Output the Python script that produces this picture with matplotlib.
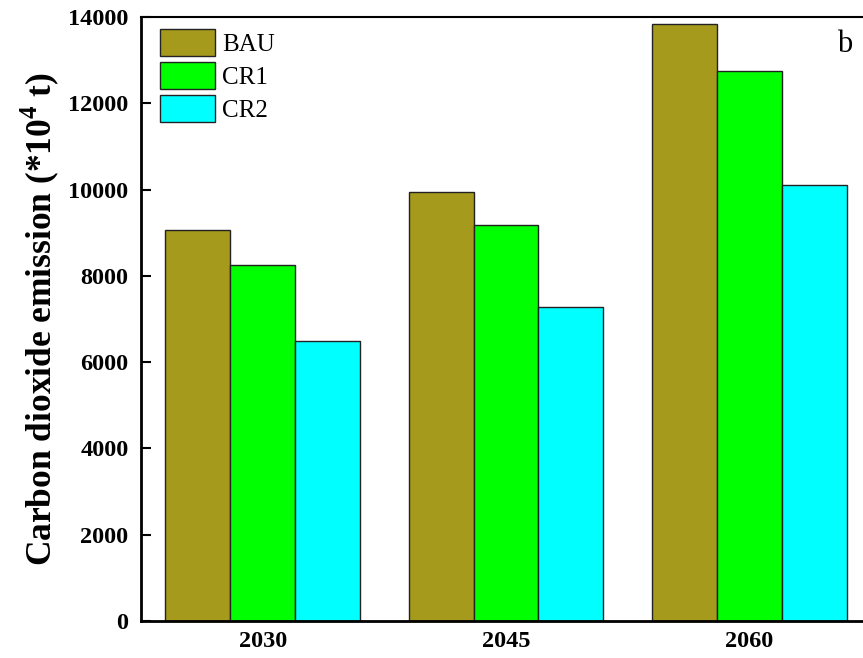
import numpy as np
import matplotlib
matplotlib.use("Agg")
import matplotlib.pyplot as plt

# Emission data (x10^4 t) per scenario and target year
years = ["2030", "2045", "2060"]
scenarios = ["BAU", "CR1", "CR2"]
bau = [9060, 9950, 13840]
cr1 = [8260, 9180, 12750]
cr2 = [6500, 7280, 10100]
colors = ["#A69A1C", "#00FF00", "#00FFFF"]

plt.rcParams["font.family"] = ["Liberation Serif", "DejaVu Serif"]
plt.rcParams["mathtext.fontset"] = "custom"
plt.rcParams["mathtext.rm"] = "Liberation Serif"
plt.rcParams["mathtext.bf"] = "Liberation Serif:bold"

fig = plt.figure(figsize=(8.63, 6.58), dpi=100)
ax = fig.add_axes([0.1634, 0.0562, 0.8459, 0.918])

x = np.arange(len(years))
width = 0.8 / 3
for i, (name, vals, c) in enumerate(zip(scenarios, [bau, cr1, cr2], colors)):
    ax.bar(x + (i - 1) * width, vals, width, color=c, edgecolor="#222222",
           linewidth=1.0, label=name)

ax.set_xlim(-0.5, 2.5)
ax.set_ylim(0, 14000)
ax.set_yticks(np.arange(0, 14001, 2000))
ax.set_xticks(x)
ax.set_xticklabels(years)

for lbl in ax.get_xticklabels() + ax.get_yticklabels():
    lbl.set_fontweight("bold")
    lbl.set_fontsize(17.5)

ax.tick_params(axis="y", direction="in", length=7, width=1.5, pad=9)
ax.tick_params(axis="x", length=0, pad=7)

for side in ["left", "bottom"]:
    ax.spines[side].set_linewidth(2.0)
ax.spines["top"].set_linewidth(1.5)
ax.spines["right"].set_visible(False)

ax.set_ylabel(r"Carbon dioxide emission (*10$^{\mathbf{4}}$ t)",
              fontsize=25.5, fontweight="bold", labelpad=5)

ax.legend(loc="upper left", bbox_to_anchor=(0.026, 0.980), frameon=False,
          fontsize=18, handlelength=2.2, handleheight=1.3, labelspacing=0.22,
          handletextpad=0.3, borderpad=0, borderaxespad=0)

ax.text(0.964, 0.954, "b", transform=ax.transAxes, fontsize=22,
        ha="center", va="center")

fig.savefig("out.png", dpi=100)
